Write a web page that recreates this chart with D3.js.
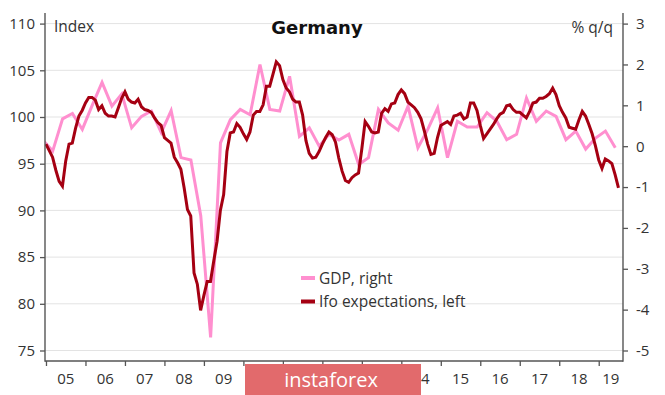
<!DOCTYPE html>
<html>
<head>
<meta charset="utf-8">
<script src="https://cdn.jsdelivr.net/npm/d3@7"></script>
<style>
  body { margin: 0; background: #fff; }
  text { font-family: "Open Sans", sans-serif; fill: #333; }
</style>
</head>
<body>
<svg id="chart" width="665" height="395"></svg>
<script>
// Ifo business expectations, monthly from Jan 2005 (left axis, index)
var ifo = [
  97.1, 96.4, 95.7, 94.3, 93.1, 92.6, 95.3, 97.1, 97.2, 98.8, 100.1, 100.7,
  101.5, 102.1, 102.1, 101.8, 100.8, 101.2, 100.4, 100.1, 100.1, 100.0, 101.0, 102.0,
  102.7, 101.9, 101.6, 101.5, 101.9, 101.1, 100.8, 100.7, 100.5, 99.9, 99.4, 99.1,
  97.8, 97.5, 97.2, 95.7, 95.1, 94.4, 92.4, 90.1, 89.4, 83.3, 82.1, 79.3,
  80.9, 82.4, 82.4, 84.6, 86.7, 90.0, 91.7, 96.3, 98.3, 98.4, 99.3, 98.9,
  98.2, 97.6, 98.4, 100.2, 100.6, 100.6, 101.3, 103.3, 103.3, 104.6, 105.9, 105.5,
  104.0, 103.1, 102.7, 101.9, 101.6, 101.6, 100.2, 97.5, 96.1, 95.6, 95.7, 96.3,
  97.1, 97.8, 98.4, 98.1, 97.3, 95.6, 94.2, 93.2, 93.0, 93.5, 93.8, 94.0,
  96.6, 99.5, 99.0, 98.4, 98.3, 98.4, 100.4, 100.9, 100.6, 101.4, 101.5, 102.4,
  102.9, 102.5, 101.6, 101.3, 101.0, 100.5, 99.8, 98.5, 97.1, 96.0, 96.1, 97.8,
  99.1, 99.3, 99.5, 99.2, 100.1, 100.2, 100.4, 99.8, 100.0, 101.5, 101.5, 100.7,
  99.1, 97.7, 98.2, 98.7, 99.2, 99.8, 100.3, 100.5, 101.2, 101.3, 100.8, 100.5,
  100.5, 100.2, 99.9, 100.6, 101.5, 101.6, 102.0, 102.0, 102.2, 102.5, 103.1, 102.4,
  101.2, 100.5, 99.9, 98.9, 98.8, 98.7, 99.7, 100.6, 100.1, 99.2, 98.2, 96.9,
  95.4, 94.5, 95.5, 95.3, 95.0, 93.8, 92.4
];

// GDP % q/q, quarterly from 2004 Q4 (right axis)
var gdp = [
  0.15,
  -0.12, 0.67, 0.80, 0.41,
  1.00, 1.56, 0.98, 1.28,
  0.45, 0.73, 0.86, 0.33,
  0.87, -0.28, -0.34, -1.70,
  -4.68, 0.08, 0.65, 0.90,
  0.77, 2.00, 0.90, 0.86,
  1.71, 0.24, 0.45, 0.00,
  0.29, 0.15, 0.29, -0.45,
  -0.28, 0.90, 0.57, 0.39,
  0.98, -0.04, 0.41, 0.94,
  -0.28, 0.61, 0.47, 0.47,
  0.82, 0.61, 0.16, 0.29,
  1.18, 0.61, 0.86, 0.73,
  0.16, 0.37, -0.07, 0.20,
  0.37, -0.04
];

var years = d3.range(2005, 2020);
var yearLabels = ["05", "06", "07", "08", "09", "10", "11", "12", "13", "14", "15", "16", "17", "18", "19"];
var leftTicks = [75, 80, 85, 90, 95, 100, 105, 110];
var rightTicks = [-5, -4, -3, -2, -1, 0, 1, 2, 3];

var ifoColor = "#a50012",
    gdpColor = "#ff8fcf";

var svg = d3.select("#chart");
var pLeft = 45, pRight = 623, pTop = 13, pBottom = 361;

var x = d3.scaleLinear().domain([2004.975, 2019.615]).range([pLeft, pRight]);
var yL = d3.scaleLinear().domain([75, 110]).range([350.5, 23.6]);
var yR = d3.scaleLinear().domain([-5, 3]).range([350.5, 23.6]);

// gridlines
svg.append("g")
  .selectAll("line")
  .data(leftTicks)
  .enter().append("line")
  .attr("x1", pLeft).attr("x2", pRight)
  .attr("y1", function (d) { return yL(d); })
  .attr("y2", function (d) { return yL(d); })
  .attr("stroke", "#e3e3e3")
  .attr("stroke-width", 1);

// clip for the lines
svg.append("defs").append("clipPath").attr("id", "plotclip")
  .append("rect")
  .attr("x", pLeft).attr("y", pTop)
  .attr("width", pRight - pLeft).attr("height", pBottom - pTop);

var gdpLine = d3.line()
  .x(function (d, i) { return x(2004.75 + i * 0.25 + 0.17); })
  .y(function (d) { return yR(d); });

var ifoLine = d3.line()
  .x(function (d, i) { return x(2005 + i / 12); })
  .y(function (d) { return yL(d); });

var lines = svg.append("g").attr("clip-path", "url(#plotclip)");

lines.append("path")
  .datum(gdp)
  .attr("d", gdpLine)
  .attr("fill", "none")
  .attr("stroke", gdpColor)
  .attr("stroke-width", 3);

lines.append("path")
  .datum(ifo)
  .attr("d", ifoLine)
  .attr("fill", "none")
  .attr("stroke", ifoColor)
  .attr("stroke-width", 3);

// axes
var axisColor = "#555";
var plain = function (d) { return String(d); };

var gLeft = svg.append("g")
  .attr("transform", "translate(" + pLeft + ",0)")
  .call(d3.axisLeft(yL).tickValues(leftTicks).tickSize(5).tickPadding(5).tickFormat(plain));

var gRight = svg.append("g")
  .attr("transform", "translate(" + pRight + ",0)")
  .call(d3.axisRight(yR).tickValues(rightTicks).tickSize(5).tickPadding(8).tickFormat(plain));

var gBottom = svg.append("g")
  .attr("transform", "translate(0," + pBottom + ")")
  .call(d3.axisBottom(x).tickValues(years).tickSize(5).tickFormat(""));

[gLeft, gRight, gBottom].forEach(function (g) {
  g.select(".domain").remove();
  g.selectAll(".tick line").attr("stroke", axisColor).attr("stroke-width", 1.3);
  g.selectAll("text").style("font-size", "15px").style("font-family", "Open Sans").attr("fill", "#333");
});

svg.append("line").attr("x1", pLeft).attr("x2", pLeft).attr("y1", pTop).attr("y2", pBottom + 0.7)
  .attr("stroke", axisColor).attr("stroke-width", 1.4);
svg.append("line").attr("x1", pRight).attr("x2", pRight).attr("y1", pTop).attr("y2", pBottom + 0.7)
  .attr("stroke", axisColor).attr("stroke-width", 1.4);
svg.append("line").attr("x1", pLeft).attr("x2", pRight).attr("y1", pBottom).attr("y2", pBottom)
  .attr("stroke", axisColor).attr("stroke-width", 1.4);

// year labels centred in the visible part of each year
svg.append("g")
  .selectAll("text")
  .data(years)
  .enter().append("text")
  .attr("x", function (d) {
    var a = Math.max(x(d), pLeft), b = Math.min(x(d + 1), pRight);
    return (a + b) / 2;
  })
  .attr("y", 384)
  .attr("text-anchor", "middle")
  .style("font-size", "15px")
  .text(function (d, i) { return yearLabels[i]; });

// titles
svg.append("text")
  .attr("x", 317).attr("y", 34)
  .attr("text-anchor", "middle")
  .style("font-family", "DejaVu Sans")
  .style("font-weight", "bold")
  .style("font-size", "18px")
  .style("fill", "#111")
  .text("Germany");

svg.append("text").attr("x", 54).attr("y", 32)
  .style("font-size", "15.5px").text("Index");

svg.append("text").attr("x", 613).attr("y", 33)
  .attr("text-anchor", "end")
  .style("font-size", "15.5px").text("% q/q");

// legend
var legend = [
  { label: "GDP, right", color: gdpColor, y: 278 },
  { label: "Ifo expectations, left", color: ifoColor, y: 301.5 }
];
var lg = svg.append("g");
lg.selectAll("line").data(legend).enter().append("line")
  .attr("x1", 301).attr("x2", 315)
  .attr("y1", function (d) { return d.y; })
  .attr("y2", function (d) { return d.y; })
  .attr("stroke", function (d) { return d.color; })
  .attr("stroke-width", 4);
lg.selectAll("text").data(legend).enter().append("text")
  .attr("x", 319)
  .attr("y", function (d) { return d.y + 5.5; })
  .style("font-size", "15.5px")
  .text(function (d) { return d.label; });

// watermark
svg.append("rect")
  .attr("x", 245).attr("y", 364)
  .attr("width", 176).attr("height", 31)
  .attr("fill", "#e26a6c");
svg.append("text")
  .attr("x", 331).attr("y", 387)
  .attr("text-anchor", "middle")
  .style("font-size", "20px")
  .style("fill", "#fff")
  .text("instaforex");
</script>
</body>
</html>
